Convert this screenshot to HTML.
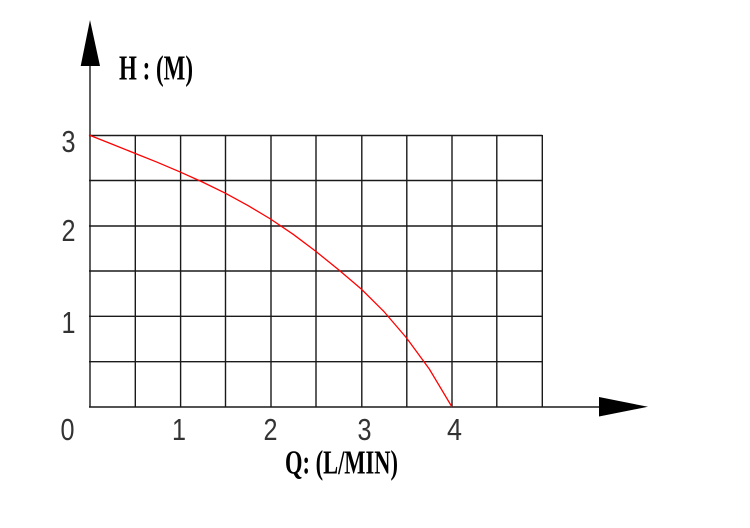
<!DOCTYPE html>
<html>
<head>
<meta charset="utf-8">
<style>
  html,body{margin:0;padding:0;background:#fff;}
  body{width:750px;height:528px;overflow:hidden;}
  svg{display:block;}
</style>
</head>
<body>
<svg width="750" height="528" viewBox="0 0 750 528" xmlns="http://www.w3.org/2000/svg">
  <rect width="750" height="528" fill="#fff"/>
  <g stroke="#1a1a1a" stroke-width="1.4" fill="none">
    <line x1="135.3" y1="135" x2="135.3" y2="407"/>
    <line x1="180.6" y1="135" x2="180.6" y2="407"/>
    <line x1="225.5" y1="135" x2="225.5" y2="407"/>
    <line x1="271" y1="135" x2="271" y2="407"/>
    <line x1="316" y1="135" x2="316" y2="407"/>
    <line x1="361.8" y1="135" x2="361.8" y2="407"/>
    <line x1="406.8" y1="135" x2="406.8" y2="407"/>
    <line x1="452" y1="135" x2="452" y2="407"/>
    <line x1="496.8" y1="135" x2="496.8" y2="407"/>
    <line x1="542.3" y1="135" x2="542.3" y2="407"/>
    <line x1="89" y1="135.5" x2="542.3" y2="135.5"/>
    <line x1="89" y1="180.5" x2="542.3" y2="180.5"/>
    <line x1="89" y1="226" x2="542.3" y2="226"/>
    <line x1="89" y1="271" x2="542.3" y2="271"/>
    <line x1="89" y1="316.3" x2="542.3" y2="316.3"/>
    <line x1="89" y1="361.7" x2="542.3" y2="361.7"/>
    <line x1="90" y1="30" x2="90" y2="407"/>
    <line x1="89" y1="407" x2="605" y2="407"/>
  </g>
  <polygon points="90,20 80.7,66 100,66" fill="#000"/>
  <polygon points="599,397 599,416.5 648,406.8" fill="#000"/>
  <polyline fill="none" stroke="#ff0000" stroke-width="1.3" stroke-linejoin="round"
    points="89,135 111.7,144 134.4,153.1 157.1,162.2 179.75,171.8 202.4,182 225.1,193.1 247.8,205.4 270.5,219 293.2,234.3 315.9,251.4 338.6,269.8 361.25,289 383.9,311.5 406.6,338 429.3,369 452,407"/>
  <text x="119" y="79.5" font-family="Liberation Serif, serif" font-weight="bold" font-size="35" textLength="74" lengthAdjust="spacingAndGlyphs" fill="#000">H : (M)</text>
  <text x="285" y="473.5" font-family="Liberation Serif, serif" font-weight="bold" font-size="34" textLength="113" lengthAdjust="spacingAndGlyphs" fill="#000">Q: (L/MIN)</text>
  <g font-family="Liberation Sans, sans-serif" font-size="31" fill="#333" text-anchor="middle">
    <text x="68.5" y="152" textLength="14" lengthAdjust="spacingAndGlyphs">3</text>
    <text x="68.5" y="241" textLength="14" lengthAdjust="spacingAndGlyphs">2</text>
    <text x="68.5" y="333" textLength="14" lengthAdjust="spacingAndGlyphs">1</text>
    <text x="67.5" y="440" textLength="14" lengthAdjust="spacingAndGlyphs">0</text>
    <text x="179" y="440" textLength="14" lengthAdjust="spacingAndGlyphs">1</text>
    <text x="270.5" y="440" textLength="14" lengthAdjust="spacingAndGlyphs">2</text>
    <text x="364.5" y="440" textLength="14" lengthAdjust="spacingAndGlyphs">3</text>
    <text x="454.5" y="440" textLength="15" lengthAdjust="spacingAndGlyphs">4</text>
  </g>
</svg>
</body>
</html>
